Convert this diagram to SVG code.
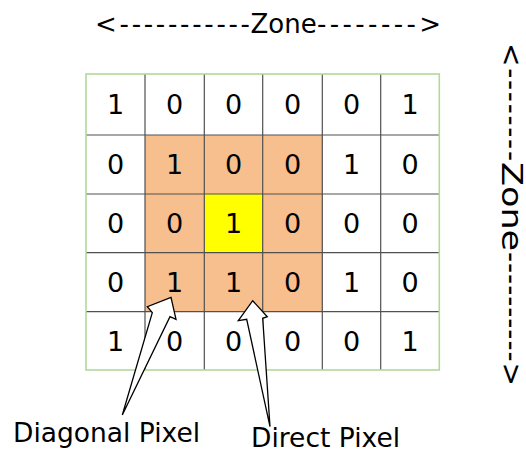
<svg xmlns="http://www.w3.org/2000/svg" width="526" height="452" viewBox="0 0 526 452">
  <style>
    text { font-family: "DejaVu Sans", Verdana, sans-serif; fill: #000; }
    .digit { font-size: 27px; text-anchor: middle; }
    .zone { font-size: 26px; }
    .zone-v { font-size: 28px; }
    .label { font-size: 26.5px; }
    .cell { fill: #ffffff; }
    .near { fill: #F7BE8E; }
    .centre { fill: #FFFF00; }
    .gridline { stroke: #505050; stroke-width: 1.2; fill: none; }
    .border { stroke: #B2D99A; stroke-width: 1.6; fill: none; }
    .callout { fill: #ffffff; stroke: #000; stroke-width: 1.3; stroke-linejoin: miter; }
  </style>

  <!-- top range marker -->
  <g id="zone-horizontal">
    <text class="zone" x="95" y="32.5" textLength="155" lengthAdjust="spacing">&lt;-----------</text>
    <text class="zone" x="250.5" y="32.5">Zone</text>
    <text class="zone" x="317" y="32.5" textLength="124" lengthAdjust="spacing">--------&gt;</text>
  </g>

  <!-- side range marker, rotated clockwise -->
  <g id="zone-vertical" transform="translate(501.5,0) rotate(90)">
    <text class="zone-v" x="43" y="0" textLength="118" lengthAdjust="spacing">&lt;--------</text>
    <text class="zone-v" transform="translate(162,0) scale(1.25,1)" x="0" y="0">Zone</text>
    <text class="zone-v" x="252" y="0" textLength="134" lengthAdjust="spacing">----------&gt;</text>
  </g>

  <!-- pixel grid -->
  <g id="grid">
    <rect class="cell" x="86" y="74" width="353.3" height="296"/>
    <rect class="near" x="145" y="135" width="177.3" height="176.7"/>
    <rect class="centre" x="204.3" y="194" width="58.4" height="58.7"/>

    <g id="row0">
      <g id="c00"><text class="digit" x="115.5" y="114.3">1</text></g>
      <g id="c01"><text class="digit" x="174.6" y="114.3">0</text></g>
      <g id="c02"><text class="digit" x="233.5" y="114.3">0</text></g>
      <g id="c03"><text class="digit" x="292.5" y="114.3">0</text></g>
      <g id="c04"><text class="digit" x="351.5" y="114.3">0</text></g>
      <g id="c05"><text class="digit" x="410" y="114.3">1</text></g>
    </g>
    <g id="row1">
      <g id="c10"><text class="digit" x="115.5" y="174.3">0</text></g>
      <g id="c11"><text class="digit" x="174.6" y="174.3">1</text></g>
      <g id="c12"><text class="digit" x="233.5" y="174.3">0</text></g>
      <g id="c13"><text class="digit" x="292.5" y="174.3">0</text></g>
      <g id="c14"><text class="digit" x="351.5" y="174.3">1</text></g>
      <g id="c15"><text class="digit" x="410" y="174.3">0</text></g>
    </g>
    <g id="row2">
      <g id="c20"><text class="digit" x="115.5" y="233.2">0</text></g>
      <g id="c21"><text class="digit" x="174.6" y="233.2">0</text></g>
      <g id="c22"><text class="digit" x="233.5" y="233.2">1</text></g>
      <g id="c23"><text class="digit" x="292.5" y="233.2">0</text></g>
      <g id="c24"><text class="digit" x="351.5" y="233.2">0</text></g>
      <g id="c25"><text class="digit" x="410" y="233.2">0</text></g>
    </g>
    <g id="row3">
      <g id="c30"><text class="digit" x="115.5" y="292">0</text></g>
      <g id="c31"><text class="digit" x="174.6" y="292">1</text></g>
      <g id="c32"><text class="digit" x="233.5" y="292">1</text></g>
      <g id="c33"><text class="digit" x="292.5" y="292">0</text></g>
      <g id="c34"><text class="digit" x="351.5" y="292">1</text></g>
      <g id="c35"><text class="digit" x="410" y="292">0</text></g>
    </g>
    <g id="row4">
      <g id="c40"><text class="digit" x="115.5" y="350.6">1</text></g>
      <g id="c41"><text class="digit" x="174.6" y="350.6">0</text></g>
      <g id="c42"><text class="digit" x="233.5" y="350.6">0</text></g>
      <g id="c43"><text class="digit" x="292.5" y="350.6">0</text></g>
      <g id="c44"><text class="digit" x="351.5" y="350.6">0</text></g>
      <g id="c45"><text class="digit" x="410" y="350.6">1</text></g>
    </g>

    <path class="gridline" d="M145 74V370 M204.3 74V370 M262.7 74V370 M322.3 74V370 M380.7 74V370
                             M86 135H439.3 M86 194H439.3 M86 252.7H439.3 M86 311.7H439.3"/>
    <rect class="border" x="86" y="74" width="353.3" height="296"/>
  </g>

  <!-- callout arrows -->
  <g id="connectors">
    <path class="callout" d="M122.3 415 L152.3 312.7 L147.3 306.7 L171 297.3 L176 319.3 L170 316.7 Z"/>
    <path class="callout" d="M270 426.7 L246.7 319.3 L238.3 320.7 L252.7 300.7 L267.3 316.7 L262.7 318.3 Z"/>
  </g>

  <g id="label-diagonal">
    <text class="label" x="13" y="441.7">Diagonal Pixel</text>
  </g>
  <g id="label-direct">
    <text class="label" x="251" y="447">Direct Pixel</text>
  </g>
</svg>
